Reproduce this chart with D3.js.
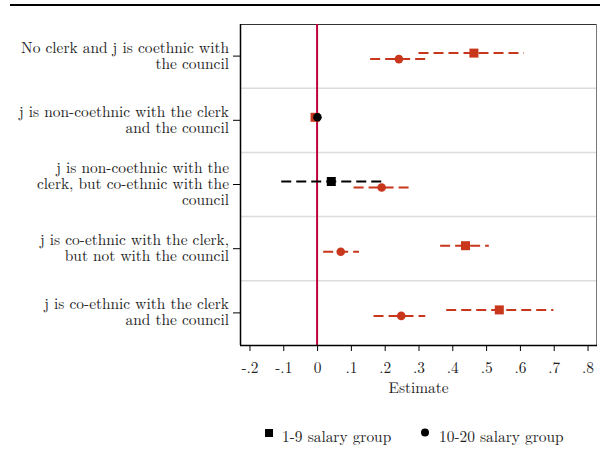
<!DOCTYPE html>
<html>
<head>
<meta charset="utf-8">
<script src="https://cdn.jsdelivr.net/npm/d3@7"></script>
<style>
  body { margin: 0; background: #fff; }
</style>
</head>
<body>
<svg id="chart" width="600" height="458"></svg>
<script>
// categories, top to bottom
var categories = [
  ["No clerk and j is coethnic with", "the council"],
  ["j is non-coethnic with the clerk", "and the council"],
  ["j is non-coethnic with the", "clerk, but co-ethnic with the", "council"],
  ["j is co-ethnic with the clerk,", "but not with the council"],
  ["j is co-ethnic with the clerk", "and the council"]
];

// 1-9 salary group (squares)
var lowEst   = [0.464, -0.006, 0.042, 0.439, 0.539];
var lowLo    = [0.300, -0.010, -0.106, 0.364, 0.382];
var lowHi    = [0.612, -0.002, 0.191, 0.508, 0.699];
var lowSig   = [true, true, false, true, true];

// 10-20 salary group (circles)
var highEst  = [0.242, 0.001, 0.191, 0.070, 0.249];
var highLo   = [0.157, -0.003, 0.108, 0.018, 0.167];
var highHi   = [0.325, 0.005, 0.276, 0.124, 0.320];
var highSig  = [true, false, true, true, true];

var xTicks = [-0.2, -0.1, 0, 0.1, 0.2, 0.3, 0.4, 0.5, 0.6, 0.7, 0.8];
var legendLabels = ["1-9 salary group", "10-20 salary group"];

var red = "#c8361b";
var font = "'Latin Modern Roman', 'Liberation Serif', serif";
var fontSize = 15.4;
var ink = "#222";

// vertical nudges of each group inside its row (px)
var lowShift  = [-3, -3, -3, -3, -3];
var highShift = [3, -3, 3, 3, 3];

var svg = d3.select("#chart");
var plotL = 240, plotR = 597, plotT = 24, plotB = 345;

var x = d3.scaleLinear().domain([-0.228, 0.828]).range([plotL, plotR]);
var y = d3.scaleBand().domain(d3.range(categories.length)).range([plotT, plotB]);

function txt(sel) {
  return sel.attr("font-family", font).attr("font-size", fontSize).attr("fill", ink);
}
function rowY(i) { return y(i) + y.bandwidth() / 2; }

// top rule
svg.append("line")
  .attr("x1", 10).attr("x2", 600).attr("y1", 5).attr("y2", 5)
  .attr("stroke", "#000").attr("stroke-width", 2);

// grid lines between rows
for (var i = 1; i < categories.length; i++) {
  svg.append("line")
    .attr("x1", plotL).attr("x2", plotR)
    .attr("y1", y(i)).attr("y2", y(i))
    .attr("stroke", "#dcdcdc").attr("stroke-width", 1.5);
}

// frame
svg.append("line").attr("x1", plotL).attr("x2", plotR).attr("y1", plotT + 0.5).attr("y2", plotT + 0.5)
  .attr("stroke", "#333").attr("stroke-width", 1);
svg.append("line").attr("x1", plotR - 0.5).attr("x2", plotR - 0.5).attr("y1", plotT).attr("y2", plotB)
  .attr("stroke", "#777").attr("stroke-width", 1);

// zero line
svg.append("line")
  .attr("x1", x(0)).attr("x2", x(0)).attr("y1", plotT).attr("y2", plotB)
  .attr("stroke", "#c0003a").attr("stroke-width", 2);

// x axis
var xAxis = d3.axisBottom(x).tickValues(xTicks).tickSize(6)
  .tickFormat(function(d) {
    if (Math.abs(d) < 1e-9) return "0";
    var s = d3.format(".1f")(d);
    return s.replace("0.", ".").replace("\u2212", "-");
  });
var gx = svg.append("g").attr("transform", "translate(0," + plotB + ")").call(xAxis);
gx.select(".domain").attr("d", "M" + plotL + ",0.5H" + plotR).attr("stroke", "#000").attr("stroke-width", 1.5);
gx.selectAll(".tick line").attr("stroke", "#000");
gx.selectAll("text").attr("dy", null).attr("y", 28);
txt(gx.selectAll("text"));

txt(svg.append("text"))
  .attr("x", (plotL + plotR) / 2).attr("y", 393)
  .attr("text-anchor", "middle")
  .text("Estimate");

// y axis
var yAxis = d3.axisLeft(y).tickSize(7).tickFormat("");
var gy = svg.append("g").attr("transform", "translate(" + plotL + ",0)").call(yAxis);
gy.select(".domain").attr("d", "M0.5," + plotT + "V" + plotB).attr("stroke", "#000").attr("stroke-width", 1.5);
gy.selectAll(".tick line").attr("stroke", "#000");

// category labels
categories.forEach(function(lines, i) {
  var cy = rowY(i);
  var lh = 16;
  var t = txt(svg.append("text")).attr("text-anchor", "end");
  lines.forEach(function(line, j) {
    t.append("tspan")
      .attr("x", 229)
      .attr("y", cy + (j - (lines.length - 1) / 2) * lh + 4.5)
      .text(line);
  });
});

// confidence intervals
function drawCI(lo, hi, sig, shift) {
  svg.append("g").selectAll("line")
    .data(d3.range(categories.length))
    .join("line")
    .attr("x1", function(i) { return x(lo[i]); })
    .attr("x2", function(i) { return x(hi[i]); })
    .attr("y1", function(i) { return rowY(i) + shift[i]; })
    .attr("y2", function(i) { return rowY(i) + shift[i]; })
    .attr("stroke", function(i) { return sig[i] ? red : "#000"; })
    .attr("stroke-width", 2)
    .attr("stroke-dasharray", "10,5");
}
drawCI(lowLo, lowHi, lowSig, lowShift);
drawCI(highLo, highHi, highSig, highShift);

// squares
svg.append("g").selectAll("rect")
  .data(d3.range(categories.length))
  .join("rect")
  .attr("x", function(i) { return x(lowEst[i]) - 4.5; })
  .attr("y", function(i) { return rowY(i) + lowShift[i] - 4.5; })
  .attr("width", 9).attr("height", 9)
  .attr("fill", function(i) { return lowSig[i] ? red : "#000"; });

// circles
svg.append("g").selectAll("circle")
  .data(d3.range(categories.length))
  .join("circle")
  .attr("cx", function(i) { return x(highEst[i]); })
  .attr("cy", function(i) { return rowY(i) + highShift[i]; })
  .attr("r", 4.3)
  .attr("fill", function(i) { return highSig[i] ? red : "#000"; });

// legend
svg.append("rect").attr("x", 265).attr("y", 429).attr("width", 8).attr("height", 8).attr("fill", "#000");
txt(svg.append("text")).attr("x", 282).attr("y", 442).text(legendLabels[0]);
svg.append("circle").attr("cx", 425).attr("cy", 432.5).attr("r", 4).attr("fill", "#000");
txt(svg.append("text")).attr("x", 439).attr("y", 442).text(legendLabels[1]);
</script>
</body>
</html>
